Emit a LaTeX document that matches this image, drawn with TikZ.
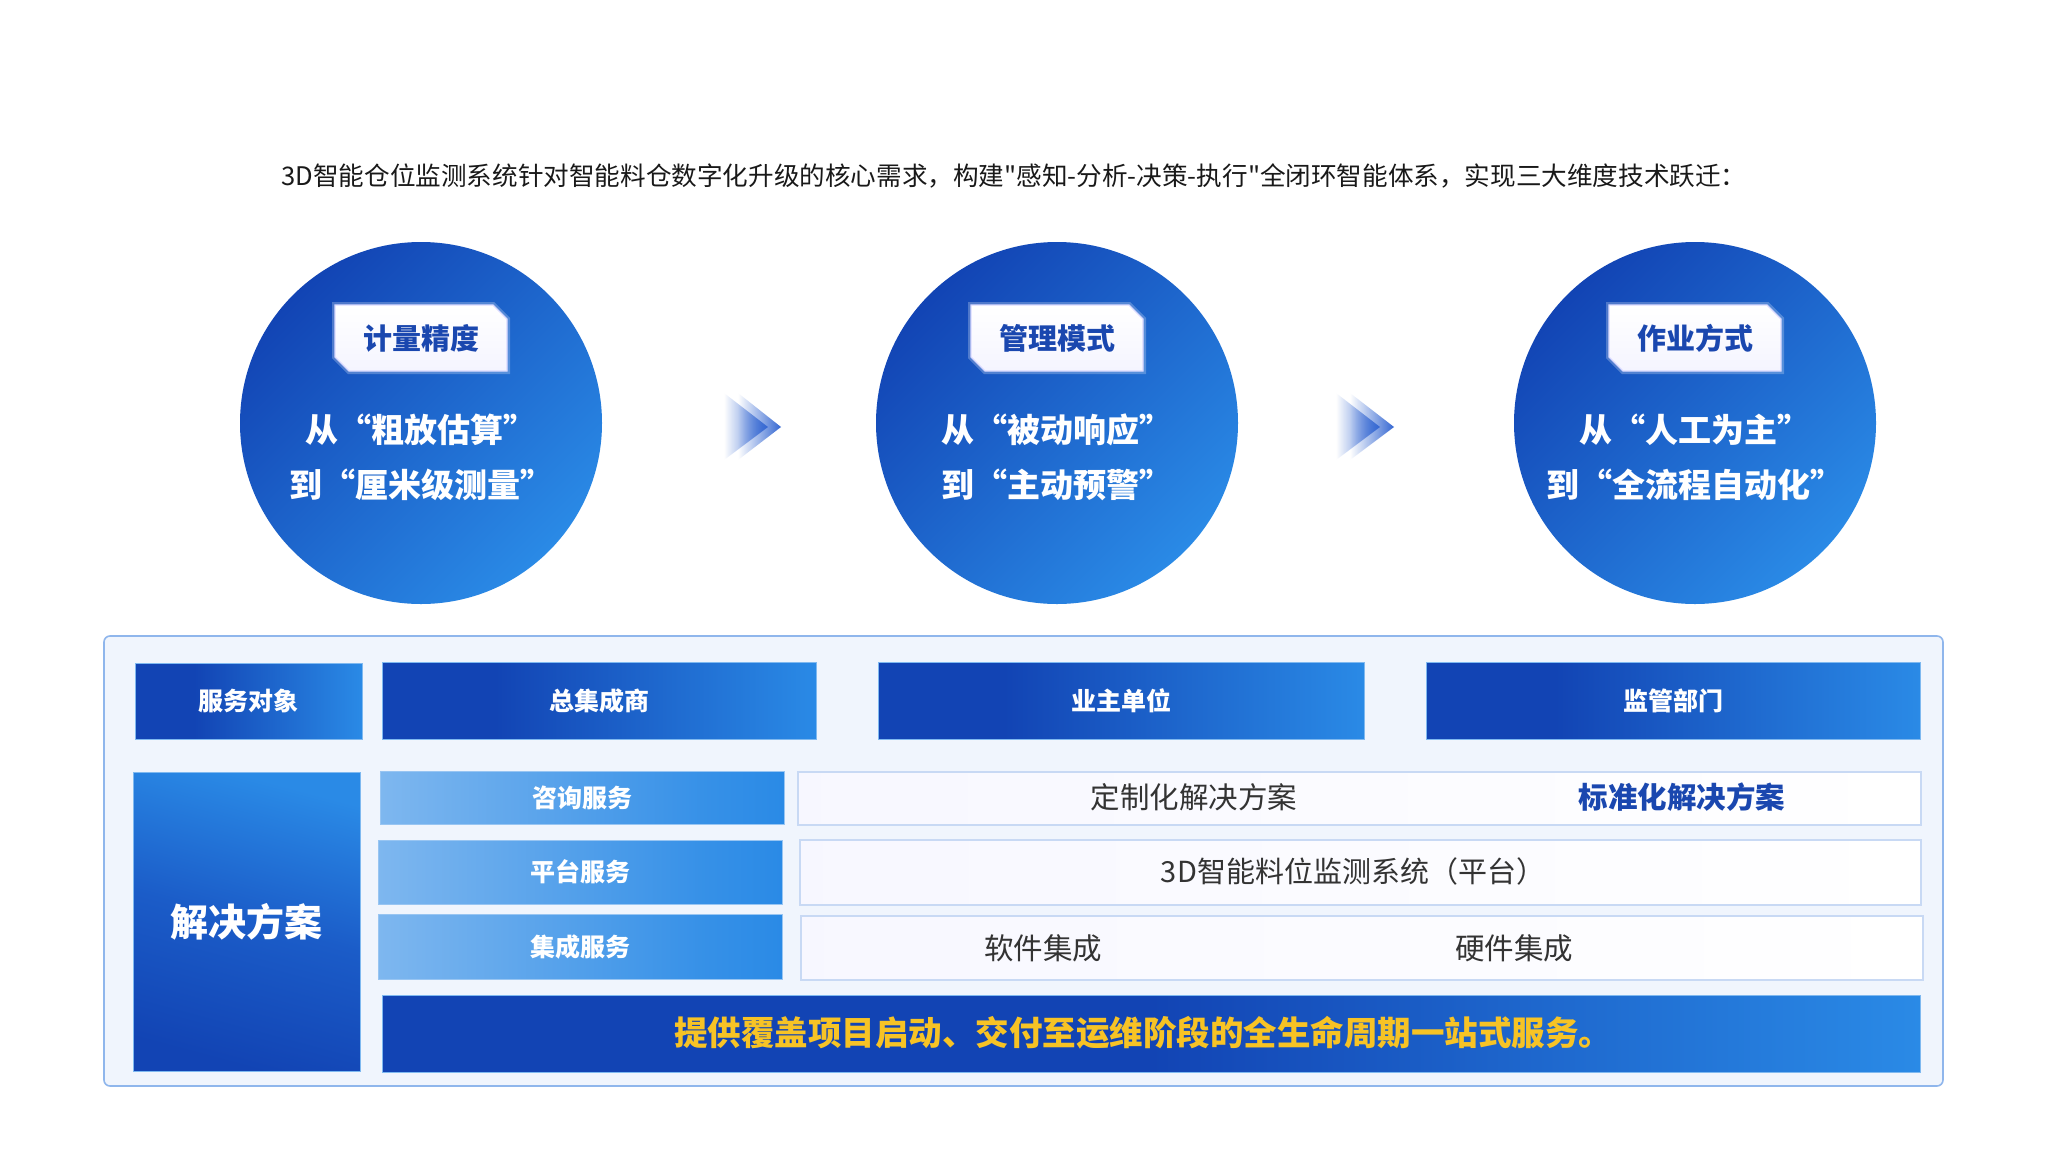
\documentclass[tikz,border=0pt]{standalone}
\usepackage{fontspec}
\setmainfont{Noto Sans CJK SC}
\newfontfamily\introfont{Noto Sans CJK SC}
\usetikzlibrary{shapes.misc,fadings}
\definecolor{cdark}{HTML}{1244B4}
\definecolor{clight}{HTML}{2A8AE6}
\definecolor{cmid}{HTML}{1B5CC8}
\definecolor{svlight}{HTML}{7EB7EF}
\definecolor{panelfill}{HTML}{F0F5FD}
\definecolor{paneldraw}{HTML}{8FB6EC}
\definecolor{rowdraw}{HTML}{C8D9F4}
\definecolor{labelblue}{HTML}{1A47AF}
\definecolor{txtgray}{HTML}{333333}
\definecolor{gold}{HTML}{F7C325}
\definecolor{arrowblue}{HTML}{3467D2}
\pgfdeclarehorizontalshading{hdrsh}{100bp}{color(0bp)=(cdark); color(38bp)=(cdark); color(75bp)=(clight); color(100bp)=(clight)}
\pgfdeclarehorizontalshading{barsh}{100bp}{color(0bp)=(cdark); color(50bp)=(cdark); color(75bp)=(clight); color(100bp)=(clight)}
\pgfdeclarehorizontalshading{svsh}{100bp}{color(0bp)=(svlight); color(25bp)=(svlight); color(65bp)=(clight!85!svlight); color(75bp)=(clight); color(100bp)=(clight)}
\newcommand\myfs[1]{\fontsize{#1}{#1}\selectfont}
\begin{document}
\begin{tikzpicture}[x=1pt,y=-1pt,
  every node/.style={inner sep=0, outer sep=0},
  bigcirc/.style={circle, minimum size=362, left color=cdark, right color=clight, shading angle=45},
  tagbox/.style={chamfered rectangle, chamfered rectangle corners={north east,south west},
     chamfered rectangle xsep=7, chamfered rectangle ysep=7,
     minimum width=172, minimum height=66, top color=white, bottom color=blue!4,
     draw=white!85!blue, line width=1.2,
     preaction={draw=white, line width=6, opacity=0.25},
     font=\myfs{29}\bfseries, text=labelblue},
  circtext/.style={align=center, text=white, font=\fontsize{33}{55}\selectfont\bfseries},
  hdr/.style={shading=hdrsh, draw=clight!60!white, line width=1, text=white, font=\myfs{25}\bfseries},
  svbox/.style={shading=svsh, draw=svlight!80!white, line width=1, text=white, font=\myfs{25}\bfseries},
  rowbox/.style={left color=blue!3, right color=white, draw=rowdraw, line width=1.6},
  rowtext/.style={text=txtgray, font=\myfs{29.5}},
  arr/.style={fill=arrowblue, path fading=west}
]
\useasboundingbox (0,0) rectangle (2048,1152);
\fill[white] (0,0) rectangle (2048,1152);

% intro text
\node[text=black!90, font=\introfont\myfs{25.6}] (intro) at (1014,176) {3D智能仓位监测系统针对智能料仓数字化升级的核心需求，构建"感知-分析-决策-执行"全闭环智能体系，实现三大维度技术跃迁：};

% circles
\node[bigcirc] (c1) at (421,423) {};
\node[bigcirc] (c2) at (1057,423) {};
\node[bigcirc] (c3) at (1695,423) {};

\node[tagbox] (t1) at (421,338) {计量精度};
\node[tagbox] (t2) at (1057,338) {管理模式};
\node[tagbox] (t3) at (1695,338) {作业方式};

\node[circtext] (m1) at (421,457) {从“粗放估算”\\到“厘米级测量”};
\node[circtext] (m2) at (1057,457) {从“被动响应”\\到“主动预警”};
\node[circtext] (m3) at (1695,457) {从“人工为主”\\到“全流程自动化”};

% chevrons
\fill[arr] (724,393) -- (768,427) -- (724,460) -- cycle;
\fill[arr] (738,393) -- (781,427) -- (738,460) -- cycle;
\fill[arr] (1336,393) -- (1380,427) -- (1336,460) -- cycle;
\fill[arr] (1350,393) -- (1394,427) -- (1350,460) -- cycle;

% panel
\node[rectangle, rounded corners=6, fill=panelfill, draw=paneldraw, line width=1.6,
      minimum width=1839, minimum height=450] (panel) at (1023.5,861) {};

% header row
\node[hdr, minimum width=227, minimum height=76] (h0) at (248.5,701) {服务对象};
\node[hdr, minimum width=434, minimum height=77] (h1) at (599,700.5) {总集成商};
\node[hdr, minimum width=486, minimum height=77] (h2) at (1121,700.5) {业主单位};
\node[hdr, minimum width=494, minimum height=77] (h3) at (1673,700.5) {监管部门};

% solution block
\node[top color=clight, bottom color=cdark, middle color=cmid, shading angle=-15,
      draw=clight!60!white, line width=1, text=white, font=\myfs{38}\bfseries,
      minimum width=227, minimum height=299] (sol) at (246.5,921.5) {解决方案};

\node[svbox, minimum width=404, minimum height=53] (s1) at (582,797.5) {咨询服务};
\node[svbox, minimum width=404, minimum height=64] (s2) at (580,872) {平台服务};
\node[svbox, minimum width=404, minimum height=65] (s3) at (580,946.5) {集成服务};

\node[rowbox, minimum width=1123, minimum height=53] (r1) at (1359.5,798.5) {};
\node[rowbox, minimum width=1121, minimum height=65] (r2) at (1360.5,872.5) {};
\node[rowbox, minimum width=1122, minimum height=64] (r3) at (1362,948) {};

\node[rowtext] (r1a) at (1194,797) {定制化解决方案};
\node[rowtext, text=labelblue, font=\myfs{29.5}\bfseries] (r1b) at (1682,797) {标准化解决方案};
\node[rowtext, font=\myfs{29}] (r2a) at (1353,871) {3D智能料位监测系统（平台）};
\node[rowtext] (r3a) at (1043,948) {软件集成};
\node[rowtext] (r3b) at (1514,948) {硬件集成};

\node[shading=barsh, draw=clight!60!white, line width=1,
      minimum width=1538, minimum height=77] (bar) at (1151,1033.5) {};
\node[text=gold, font=\myfs{33.5}\bfseries] (bartext) at (1143,1033) {提供覆盖项目启动、交付至运维阶段的全生命周期一站式服务。};
\end{tikzpicture}
\end{document}
